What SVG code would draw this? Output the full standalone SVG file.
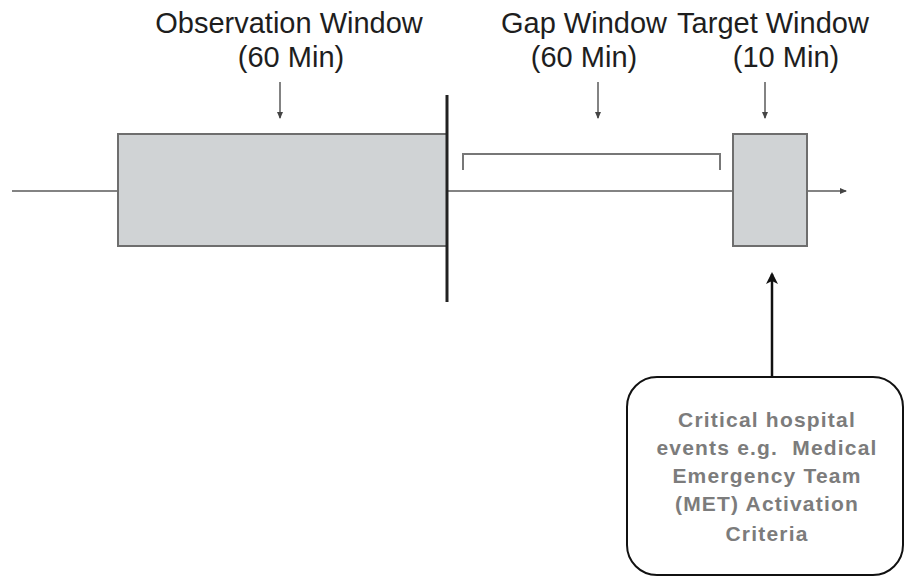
<svg xmlns="http://www.w3.org/2000/svg" width="908" height="577" viewBox="0 0 908 577">
  <style>
    .label { font-family: "Liberation Sans", Arial, sans-serif; font-size: 29px; fill: #1e1e1e; text-anchor: middle; }
    .note { font-family: "Liberation Sans", Arial, sans-serif; font-size: 21px; font-weight: bold; letter-spacing: 1.2px; fill: #7c7c7c; text-anchor: middle; }
    .win { fill: #d0d3d5; stroke: #6e6e6e; stroke-width: 2; }
    .thin { stroke: #5a5a5a; stroke-width: 1.5; fill: none; }
  </style>
  <defs>
    <marker id="smallHead" markerWidth="8" markerHeight="8" refX="6" refY="4" orient="auto" markerUnits="userSpaceOnUse">
      <path d="M0,1 L7,4 L0,7 Z" fill="#444"/>
    </marker>
    <marker id="bigHead" markerWidth="14" markerHeight="14" refX="10" refY="7" orient="auto" markerUnits="userSpaceOnUse">
      <path d="M0,1 L12,7 L0,13 L3,7 Z" fill="#111"/>
    </marker>
  </defs>

  <!-- timeline axis -->
  <g id="connectors">
    <line x1="12" y1="191" x2="118" y2="191" class="thin"/>
    <line x1="447" y1="191" x2="733" y2="191" class="thin"/>
    <line x1="807" y1="191" x2="846" y2="191" class="thin" marker-end="url(#smallHead)"/>
    <!-- pointer arrows under labels -->
    <line x1="280" y1="82" x2="280" y2="118" class="thin" marker-end="url(#smallHead)"/>
    <line x1="598" y1="82" x2="598" y2="118" class="thin" marker-end="url(#smallHead)"/>
    <line x1="765" y1="82" x2="765" y2="118" class="thin" marker-end="url(#smallHead)"/>
    <!-- event arrow -->
    <line x1="772" y1="377" x2="772" y2="274" stroke="#111" stroke-width="2.5" marker-end="url(#bigHead)"/>
  </g>

  <g id="observation-window">
    <rect x="118" y="134" width="329" height="112" class="win"/>
    <text class="label" x="289" y="33">Observation Window</text>
    <text class="label" x="291" y="67">(60 Min)</text>
  </g>

  <g id="cutoff">
    <line x1="447" y1="95" x2="447" y2="302" stroke="#222" stroke-width="3"/>
  </g>

  <g id="gap-window">
    <path d="M463,170 L463,154 L720,154 L720,170" stroke="#777" stroke-width="2" fill="none"/>
    <text class="label" x="584" y="33">Gap Window</text>
    <text class="label" x="584" y="67">(60 Min)</text>
  </g>

  <g id="target-window">
    <rect x="733" y="134" width="74" height="112" class="win"/>
    <text class="label" x="773" y="33">Target Window</text>
    <text class="label" x="786" y="67">(10 Min)</text>
  </g>

  <g id="event-box">
    <rect x="627" y="377" width="276" height="198" rx="30" ry="30" fill="#fff" stroke="#111" stroke-width="2"/>
    <text class="note" x="767" y="427">Critical hospital</text>
    <text class="note" x="767" y="455" xml:space="preserve">events e.g.  Medical</text>
    <text class="note" x="767" y="483">Emergency Team</text>
    <text class="note" x="767" y="511">(MET) Activation</text>
    <text class="note" x="767" y="541">Criteria</text>
  </g>
</svg>
